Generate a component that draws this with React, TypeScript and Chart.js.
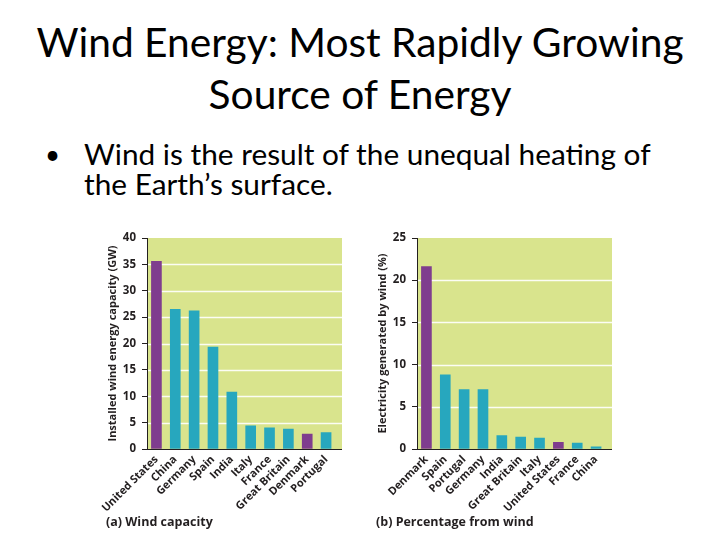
import React, { useEffect, useRef } from 'react';
import { Chart, registerables } from 'chart.js';

Chart.register(...registerables);

// ---- data ----
const capacityCountries = ['United States', 'China', 'Germany', 'Spain', 'India', 'Italy', 'France', 'Great Britain', 'Denmark', 'Portugal'];
const capacityGW = [35.6, 26.5, 26.2, 19.3, 10.8, 4.4, 4.0, 3.8, 2.85, 3.1];
const capacityMax = 40;

const shareCountries = ['Denmark', 'Spain', 'Portugal', 'Germany', 'India', 'Great Britain', 'Italy', 'United States', 'France', 'China'];
const sharePercent = [21.6, 8.8, 7.05, 7.05, 1.6, 1.4, 1.3, 0.8, 0.7, 0.25];
const shareMax = 25;

const highlighted = ['United States', 'Denmark'];
const tickStep = 5;

const slideTitle = ['Wind Energy: Most Rapidly Growing', 'Source of Energy'];
const bulletLines = ['Wind is the result of the unequal heating of', 'the Earth\u2019s surface.'];

// ---- styles ----
const TEAL = '#27a7be';
const PURPLE = '#7f3d8e';
const PLOT_BG = '#d9e48d';
const GRID = 'rgba(255,255,255,0.9)';
const AXIS = '#231f20';
const TEXT = '#231f20';
const SLIDE_FONT = 'Lato, "Open Sans", sans-serif';
const CHART_FONT = '"Open Sans", "Noto Sans", sans-serif';
const EXTRA_RIGHT = 6.5;

const bgPlugin = {
  id: 'plotBg',
  beforeDraw(chart: any) {
    const { ctx, chartArea: a, scales } = chart;
    const y = scales.y;
    const right = a.right + EXTRA_RIGHT;
    ctx.save();
    ctx.fillStyle = PLOT_BG;
    ctx.fillRect(a.left, a.top, right - a.left, a.bottom - a.top);
    ctx.strokeStyle = GRID;
    ctx.lineWidth = 1.5;
    y.ticks.forEach((t: any) => {
      if (t.value === 0 || t.value === y.max) return;
      const py = Math.round(y.getPixelForValue(t.value)) + 0.5;
      ctx.beginPath();
      ctx.moveTo(a.left, py);
      ctx.lineTo(right, py);
      ctx.stroke();
    });
    ctx.restore();
  },
  afterDraw(chart: any) {
    const { ctx, chartArea: a } = chart;
    ctx.save();
    ctx.strokeStyle = AXIS;
    ctx.lineWidth = 1;
    ctx.beginPath();
    ctx.moveTo(a.right - 1, Math.round(a.bottom) + 0.5);
    ctx.lineTo(a.right + EXTRA_RIGHT, Math.round(a.bottom) + 0.5);
    ctx.stroke();
    ctx.restore();
  },
};

type PanelProps = {
  labels: string[];
  values: number[];
  max: number;
  yTitle: string;
  caption: string;
  left: number;
};

function BarPanel({ labels, values, max, yTitle, caption, left }: PanelProps) {
  const ref = useRef<HTMLCanvasElement>(null);
  useEffect(() => {
    const tickFont = { family: CHART_FONT, size: 11, weight: 'bold' as const };
    const chart = new Chart(ref.current!, {
      type: 'bar',
      data: {
        labels,
        datasets: [
          {
            data: values,
            backgroundColor: labels.map((l) => (highlighted.includes(l) ? PURPLE : TEAL)),
            borderWidth: 0,
            barThickness: 10,
          },
        ],
      },
      options: {
        animation: false,
        responsive: false,
        devicePixelRatio: 1,
        layout: { padding: { left: 6, top: 10, right: 14.5, bottom: 0 } },
        plugins: {
          legend: { display: false },
          tooltip: { enabled: false },
          title: {
            display: true,
            text: caption,
            position: 'bottom',
            align: 'start',
            color: TEXT,
            font: { family: CHART_FONT, size: 12.5, weight: 'bold', lineHeight: 1.2 },
            padding: { top: 0, bottom: 10 },
          },
        },
        scales: {
          x: {
            grid: { display: false, drawTicks: false },
            border: { display: true, color: AXIS, width: 1 },
            ticks: {
              autoSkip: false,
              maxRotation: 45,
              minRotation: 45,
              padding: 4,
              color: TEXT,
              font: tickFont,
            },
            afterFit: (s: any) => {
              s.height = 66;
              s.paddingLeft = 0;
              s.paddingRight = 0;
            },
          },
          y: {
            min: 0,
            max,
            ticks: { stepSize: tickStep, padding: 6, color: TEXT, font: { ...tickFont, size: 11.5 } },
            grid: { drawOnChartArea: false, tickLength: 5, tickColor: AXIS },
            border: { display: true, color: AXIS, width: 1 },
            title: {
              display: true,
              text: yTitle,
              color: TEXT,
              font: { family: CHART_FONT, size: 11, weight: 'bold', lineHeight: 1.2 },
              padding: { top: 0.5, bottom: 0 },
            },
            afterFit: (s: any) => {
              s.width = 41;
              s.paddingTop = 0;
              s.paddingBottom = 0;
            },
          },
        },
      },
      plugins: [bgPlugin],
    });
    return () => chart.destroy();
  }, []);
  return (
    <canvas
      ref={ref}
      width={250}
      height={312}
      style={{ position: 'absolute', left, top: 228, width: 250, height: 312 }}
    />
  );
}

export default function App() {
  return (
    <div
      style={{
        position: 'absolute',
        left: 0,
        top: 0,
        width: 720,
        height: 540,
        background: '#ffffff',
        overflow: 'hidden',
        fontFamily: SLIDE_FONT,
        color: '#000',
      }}
    >
      <div
        style={{
          position: 'absolute',
          left: 0,
          top: 16,
          width: 720,
          textAlign: 'center',
          fontSize: 40.7,
          lineHeight: '52px',
          whiteSpace: 'nowrap',
        }}
      >
        {slideTitle.map((t) => (
          <div key={t}>{t}</div>
        ))}
      </div>
      <div style={{ position: 'absolute', left: 45, top: 139, fontSize: 26, lineHeight: '31px' }}>•</div>
      <div
        style={{
          position: 'absolute',
          left: 84,
          top: 139,
          fontSize: 29.8,
          lineHeight: '30px',
          whiteSpace: 'nowrap',
        }}
      >
        {bulletLines.map((t) => (
          <div key={t}>{t}</div>
        ))}
      </div>
      <BarPanel
        labels={capacityCountries}
        values={capacityGW}
        max={capacityMax}
        yTitle="Installed wind energy capacity (GW)"
        caption="(a) Wind capacity"
        left={100}
      />
      <BarPanel
        labels={shareCountries}
        values={sharePercent}
        max={shareMax}
        yTitle="Electricity generated by wind (%)"
        caption="(b) Percentage from wind"
        left={370}
      />
    </div>
  );
}
